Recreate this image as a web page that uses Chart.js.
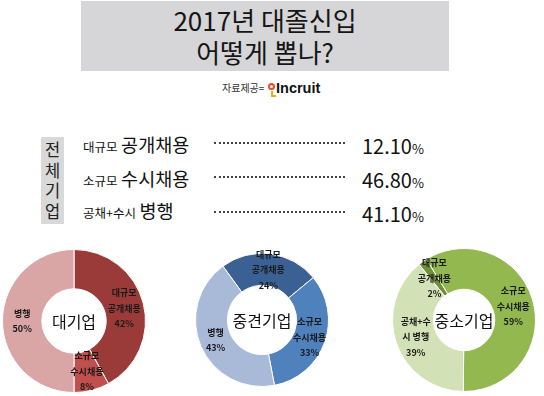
<!DOCTYPE html>
<html>
<head>
<meta charset="utf-8">
<script src="https://cdn.jsdelivr.net/npm/chart.js@4.4.1/dist/chart.umd.min.js"></script>
<style>
  body { margin: 0; background: #fff; font-family: 'Noto Sans CJK KR', sans-serif; }
  #wrap { position: relative; width: 544px; height: 396px; overflow: hidden; color: #111; }
  .abs { position: absolute; }
  #titleBox { left: 81px; top: 1px; width: 368px; height: 70px; background: #d6d6d8; }
  .tline { position: absolute; left: 0; width: 368px; text-align: center; font-size: 26px; line-height: 30px; color: #151515; }
  #src { left: 222px; top: 80px; font-size: 10px; color: #333; line-height: 16px; }
  #logo { left: 276px; top: 77px; font-family: 'Liberation Sans', Arial, sans-serif; font-weight: bold; font-size: 14.5px; line-height: 22px; color: #111; }
  #dot { left: 268px; top: 83px; width: 3px; height: 3px; border: 2px solid #ee4a23; border-radius: 50%; }
  #bracket { left: 271px; top: 91px; width: 3px; height: 4px; border-left: 2px solid #f7a81b; border-bottom: 2px solid #f7a81b; }
  #vbox { left: 41px; top: 137px; width: 23px; height: 87px; background: #d9d9d9; font-size: 16.5px; line-height: 20.5px; text-align: center; color: #222; padding-top: 2px; box-sizing: border-box; }
  .row { position: absolute; left: 83px; height: 24px; white-space: nowrap; }
  .row .s { font-size: 12.5px; }
  .row .b { font-size: 18.5px; }
  .dots { position: absolute; left: 214px; width: 131px; border-bottom: 2px dotted #444; height: 0; }
  .val { position: absolute; left: 362px; font-size: 20px; white-space: nowrap; }
  .val span { font-size: 13px; }
  canvas { position: absolute; }
</style>
</head>
<body>
<div id="wrap">
  <div id="titleBox" class="abs">
    <div class="tline" style="top:4px">2017년 대졸신입</div>
    <div class="tline" style="top:36px">어떻게 뽑나?</div>
  </div>
  <div id="src" class="abs">자료제공=</div>
  <div id="dot" class="abs"></div>
  <div id="bracket" class="abs"></div>
  <div id="logo" class="abs">Incruit</div>
  <div id="vbox" class="abs"></div>
  <div id="rows"></div>
  <canvas id="c0" width="164" height="164" style="left:-8px;top:239px"></canvas>
  <canvas id="c1" width="154" height="154" style="left:185px;top:243px"></canvas>
  <canvas id="c2" width="164" height="164" style="left:382px;top:238px"></canvas>
</div>
<script>
// 전체기업 summary
const totalSmall = ['대규모', '소규모', '공채+수시'];
const totalBig = ['공개채용', '수시채용', '병행'];
const totalValues = ['12.10', '46.80', '41.10'];

// doughnuts
const groups = ['대기업', '중견기업', '중소기업'];
const largeLabels = [['대규모', '공개채용'], ['소규모', '수시채용'], ['병행']];
const midLabels = [['대규모', '공개채용'], ['소규모', '수시채용'], ['병행']];
const smallLabels = [['대규모', '공개채용'], ['소규모', '수시채용'], ['공채+수', '시 병행']];
const largeShares = [42, 8, 50];
const midShares = [24, 33, 43];
const smallShares = [2, 59, 39];

const vbox = document.getElementById('vbox');
vbox.innerHTML = '전체기업'.split('').join('<br>');

const rowTops = [131, 165, 197];
const dotTops = [142, 176, 211];
const valTops = [131, 165, 199];
const rows = document.getElementById('rows');
totalValues.forEach((v, i) => {
  rows.insertAdjacentHTML('beforeend',
    `<div class="row" style="top:${rowTops[i]}px"><span class="s">${totalSmall[i]}</span> <span class="b">${totalBig[i]}</span></div>` +
    `<div class="dots" style="top:${dotTops[i]}px"></div>` +
    `<div class="val" style="top:${valTops[i]}px">${v}<span>%</span></div>`);
});

const sliceLabels = {
  id: 'sliceLabels',
  afterDatasetsDraw(chart, args, opts) {
    const ctx = chart.ctx;
    const meta = chart.getDatasetMeta(0);
    const values = chart.data.datasets[0].data;
    ctx.save();
    ctx.textAlign = 'center';
    ctx.textBaseline = 'middle';
    ctx.fillStyle = '#1a1a1a';
    ctx.font = "bold 9px 'Noto Sans CJK KR'";
    meta.data.forEach((arc, i) => {
      const p = arc.tooltipPosition();
      const lines = chart.data.labels[i].concat([values[i] + '%']);
      const lh = 15.5;
      const y0 = p.y - (lines.length - 1) * lh / 2;
      lines.forEach((t, j) => ctx.fillText(t, p.x, y0 + j * lh));
    });
    const cx = (chart.chartArea.left + chart.chartArea.right) / 2;
    const cy = (chart.chartArea.top + chart.chartArea.bottom) / 2;
    ctx.fillStyle = '#111';
    ctx.font = "16px 'Noto Sans CJK KR'";
    ctx.fillText(opts.center, cx, cy + 1);
    ctx.restore();
  }
};

function makeDonut(id, labels, shares, colors, rotation, cutout, center) {
  return new Chart(document.getElementById(id), {
    type: 'doughnut',
    data: {
      labels: labels,
      datasets: [{
        data: shares,
        backgroundColor: colors,
        borderColor: '#ffffff',
        borderWidth: 1
      }]
    },
    options: {
      responsive: false,
      animation: false,
      rotation: rotation,
      cutout: cutout,
      layout: { padding: 10 },
      plugins: {
        legend: { display: false },
        tooltip: { enabled: false },
        sliceLabels: { center: center }
      }
    },
    plugins: [sliceLabels]
  });
}

makeDonut('c0', largeLabels, largeShares, ['#9b3b39', '#c0504d', '#d9a6a5'], 0, '45%', groups[0]);
makeDonut('c1', midLabels, midShares, ['#3b6194', '#4f81bd', '#a8bad8'], -36, '52%', groups[1]);
makeDonut('c2', smallLabels, smallShares, ['#71903a', '#93b850', '#d3e1b6'], -39, '43%', groups[2]);
</script>
</body>
</html>
